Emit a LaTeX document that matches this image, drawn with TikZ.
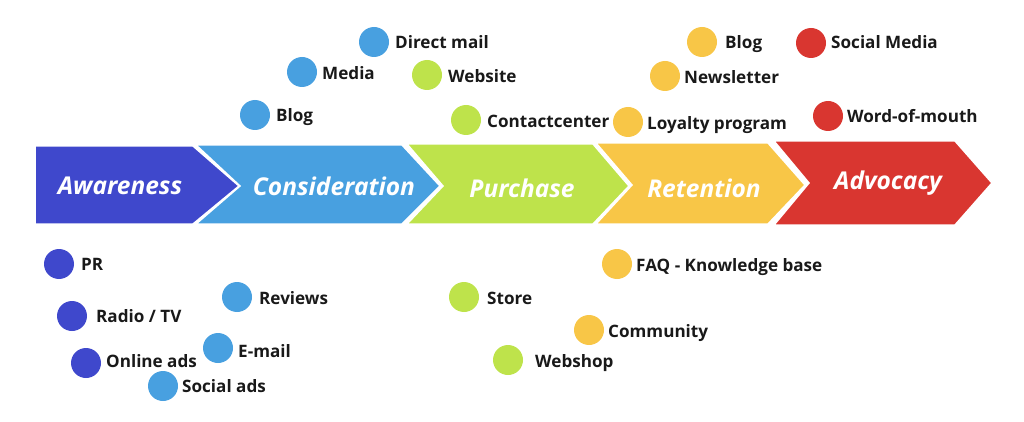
\documentclass[tikz,border=0pt]{standalone}
\usepackage{fontspec}
\setmainfont{Open Sans}
\begin{document}
\begin{tikzpicture}[x=1pt,y=-1pt,
  dot/.style={circle,inner sep=0pt,minimum size=30pt,fill=#1},
  lbl/.style={anchor=west,inner sep=0pt,font=\fontsize{17.1}{19}\selectfont\bfseries,text height=12.4pt,text depth=0pt,text=black!90},
  stage/.style={font=\fontsize{24.5}{28}\selectfont\bfseries\itshape,text=white,inner sep=0pt},
  chev/.style={fill=#1,draw=white,line width=1.5pt,line join=miter}]
\definecolor{cAw}{HTML}{3F48CC}
\definecolor{cCo}{HTML}{48A0E0}
\definecolor{cPu}{HTML}{BEE34B}
\definecolor{cRe}{HTML}{F8C647}
\definecolor{cAd}{HTML}{D93630}
\useasboundingbox (0,0) rectangle (1024,422);
% chevrons
\draw[chev=cAw] (35,146) -- (193,146) -- (239,186) -- (193,224) -- (35,224) -- cycle;
\draw[chev=cCo] (196,145) -- (402,145) -- (440,186) -- (402,224) -- (196,224) -- (240,186) -- cycle;
\draw[chev=cPu] (407,144) -- (593,144) -- (629,186) -- (593,224) -- (407,224) -- (443,186) -- cycle;
\draw[chev=cRe] (596,143) -- (768,143) -- (805,185) -- (768,224) -- (596,224) -- (632,185) -- cycle;
\draw[chev=cAd] (774,141) -- (955,141) -- (992,183) -- (955,225) -- (774,225) -- (809,183) -- cycle;
\node[stage] (aw) at (120,186) {Awareness};
\node[stage] (co) at (334,186) {Consideration};
\node[stage] (pu) at (522,188) {Purchase};
\node[stage] (re) at (704,188) {Retention};
\node[stage] (ad) at (888,183) {Advocacy};
% awareness items
\node[dot=cAw] (d1) at (59,264) {};  \node[lbl] (l1) at (81,264) {PR};
\node[dot=cAw] (d2) at (72,316) {};  \node[lbl] (l2) at (96,316) {Radio / TV};
\node[dot=cAw] (d3) at (86,363) {};  \node[lbl] (l3) at (106,361) {Online ads};
% consideration items
\node[dot=cCo] (d4) at (237,297) {}; \node[lbl] (l4) at (259,298) {Reviews};
\node[dot=cCo] (d5) at (218,348) {}; \node[lbl] (l5) at (238,351) {E-mail};
\node[dot=cCo] (d6) at (163,386) {}; \node[lbl] (l6) at (182,386) {Social ads};
\node[dot=cCo] (d7) at (374,42) {};  \node[lbl] (l7) at (395,42) {Direct mail};
\node[dot=cCo] (d8) at (302,72) {};  \node[lbl] (l8) at (322,73) {Media};
\node[dot=cCo] (d9) at (255,115) {}; \node[lbl] (l9) at (276,115) {Blog};
% purchase items
\node[dot=cPu] (d10) at (427,75) {};  \node[lbl] (l10) at (448,76) {Website};
\node[dot=cPu] (d11) at (466,120) {}; \node[lbl] (l11) at (487,121) {Contactcenter};
\node[dot=cPu] (d12) at (464,297) {}; \node[lbl] (l12) at (487,298) {Store};
\node[dot=cPu] (d13) at (508,360) {}; \node[lbl] (l13) at (535,361) {Webshop};
% retention items
\node[dot=cRe] (d14) at (702,42) {};  \node[lbl] (l14) at (725,42) {Blog};
\node[dot=cRe] (d15) at (665,76) {};  \node[lbl] (l15) at (684,77) {Newsletter};
\node[dot=cRe] (d16) at (628,122) {}; \node[lbl] (l16) at (647,123) {Loyalty program};
\node[dot=cRe] (d17) at (617,264) {}; \node[lbl] (l17) at (636,265) {FAQ - Knowledge base};
\node[dot=cRe] (d18) at (589,330) {}; \node[lbl] (l18) at (608,331) {Community};
% advocacy items
\node[dot=cAd] (d19) at (811,43) {};  \node[lbl] (l19) at (831,42) {Social Media};
\node[dot=cAd] (d20) at (828,116) {}; \node[lbl] (l20) at (847,116) {Word-of-mouth};
\end{tikzpicture}
\end{document}
